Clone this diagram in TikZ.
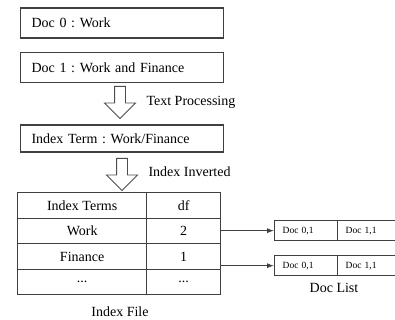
\documentclass[tikz,border=0pt]{standalone}
\usepackage{fontspec}
\setmainfont{Liberation Serif}
\usetikzlibrary{shapes.arrows,matrix,arrows.meta}
\frenchspacing
\tikzstyle{docbox}=[draw=black!75,line width=1.1pt,anchor=west,minimum height=30pt,text width=181pt,inner xsep=11pt,align=left]
\tikzstyle{flow}=[single arrow,draw=black!70,line width=0.9pt,rotate=-90,anchor=tail,minimum height=32pt,minimum width=30pt,single arrow head extend=10pt,inner xsep=0pt,inner ysep=5pt]
\tikzstyle{cell}=[draw=black!75,line width=0.9pt,minimum height=25.5pt,inner sep=0pt]
\tikzstyle{slot}=[draw=black!75,line width=0.9pt,minimum height=20pt,minimum width=63pt,text width=47pt,inner xsep=8pt,align=left,font=\fontsize{9.5}{11}\selectfont]
\tikzstyle{link}=[-{Latex[length=7pt,width=5pt]},black!75,line width=0.9pt]

\begin{document}
\begin{tikzpicture}[x=1pt,y=-1pt,font=\fontsize{14}{16}\selectfont]
    \useasboundingbox (0,0) rectangle (395,320);
    % documents and processing steps
    \node[docbox] (doc0) at (20,23) {Doc 0 : Work};
    \node[docbox] (doc1) at (20,67.5) {Doc 1 : Work and Finance};
    \node[flow] (step1) at (120,86) {};
    \node[anchor=west] (proc) at (143,102) {Text Processing};
    \node[docbox,minimum height=27pt] (term) at (20,138.5) {Index Term : Work/Finance};
    \node[flow] (step2) at (122,158) {};
    \node[anchor=west] (inv) at (145,172) {Index Inverted};
    % index file
    \matrix (tab) [matrix of nodes,anchor=north west,inner sep=0pt,nodes=cell,
        column sep=-0.9pt,row sep=-0.9pt,
        column 1/.style={nodes={minimum width=129pt}},
        column 2/.style={nodes={minimum width=74pt}}] at (17,192) {
        Index Terms & df \\
        Work & 2 \\
        Finance & 1 \\
        ... & ... \\
    };
    \node (file) at (120,312) {Index File};
    % posting lists
    \matrix (list1) [matrix of nodes,anchor=north west,inner sep=0pt,nodes=slot,column sep=-0.9pt] at (274,220) {
        Doc 0,1 & Doc 1,1 \\
    };
    \matrix (list2) [matrix of nodes,anchor=north west,inner sep=0pt,nodes=slot,column sep=-0.9pt] at (274,255) {
        Doc 0,1 & Doc 1,1 \\
    };
    \node (dl) at (334,288) {Doc List};
    \draw[link] (tab.east |- list1.west) -- (list1.west);
    \draw[link] (tab.east |- list2.west) -- (list2.west);
\end{tikzpicture}
\end{document}
